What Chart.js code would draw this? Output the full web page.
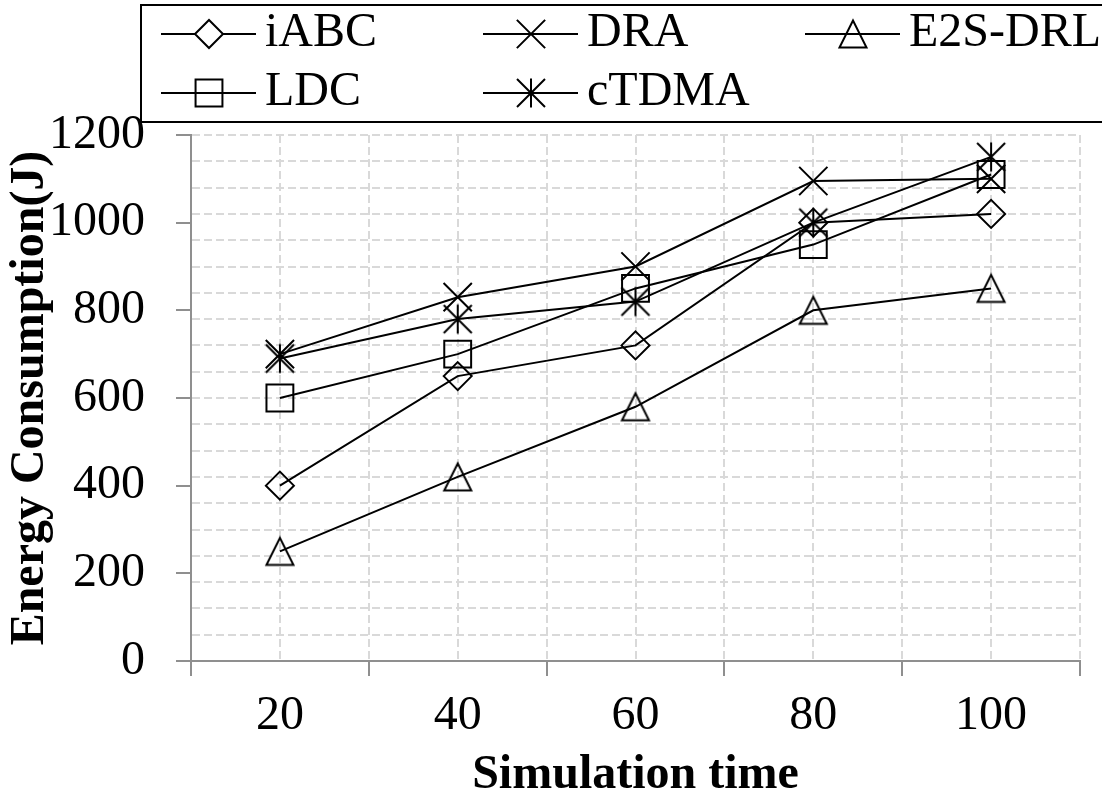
<!DOCTYPE html>
<html>
<head>
  <title>Energy Consumption</title>
  <script src="https://cdn.jsdelivr.net/npm/chart.js"></script>
  <style>
    body { margin: 0; background: #fff; }
  </style>
</head>
<body>
  <canvas id="grafico" width="1102" height="802"></canvas>

  <script>
    // datos
    const simTimes = [20, 40, 60, 80, 100];
    const iABC = [400, 650, 720, 1000, 1020];
    const DRA = [700, 830, 900, 1095, 1100];
    const E2SDRL = [250, 420, 580, 800, 850];
    const LDC = [600, 700, 850, 950, 1110];
    const cTDMA = [690, 780, 820, 1000, 1150];

    const xTicks = [10, 20, 30, 40, 50, 60, 70, 80, 90, 100, 110];
    const yLabels = [0, 200, 400, 600, 800, 1000, 1200];
    const yGrid = [0, 60, 120, 180, 240, 300, 360, 420, 480, 540, 600, 660, 720, 780, 840, 900, 960, 1020, 1080, 1140, 1200];

    const fuente = 'Liberation Serif, Times New Roman, serif';
    const gris = '#8f8f8f';
    const grisGrid = '#d9d9d9';

    function marcador(size, dibujar) {
      const c = document.createElement('canvas');
      c.width = size; c.height = size;
      const g = c.getContext('2d');
      g.strokeStyle = '#000';
      g.lineWidth = 2;
      dibujar(g, size / 2);
      return c;
    }

    const triangulo = marcador(32, (g, m) => {
      g.beginPath();
      g.moveTo(m - 13.5, m + 13.5);
      g.lineTo(m + 13.5, m + 13.5);
      g.lineTo(m, m - 13.5);
      g.closePath();
      g.stroke();
    });

    const asterisco = marcador(34, (g, m) => {
      g.beginPath();
      g.moveTo(m, m - 14.5); g.lineTo(m, m + 14.5);
      g.moveTo(m - 14, m - 14); g.lineTo(m + 14, m + 14);
      g.moveTo(m + 14, m - 14); g.lineTo(m - 14, m + 14);
      g.stroke();
    });

    function serie(label, valores, estilo, radio) {
      return {
        label: label,
        data: simTimes.map((t, i) => ({ x: t, y: valores[i] })),
        borderColor: '#000',
        backgroundColor: 'rgba(0,0,0,0)',
        borderWidth: 2,
        pointStyle: estilo,
        pointRadius: radio,
        pointHoverRadius: radio,
        pointBorderColor: '#000',
        pointBackgroundColor: 'rgba(0,0,0,0)',
        pointBorderWidth: 2,
        tension: 0,
        fill: false
      };
    }

    const datasets = [
      serie('iABC', iABC, 'rectRot', 14),
      serie('DRA', DRA, 'crossRot', 20),
      serie('E2S-DRL', E2SDRL, triangulo, 16),
      serie('LDC', LDC, 'rect', 19),
      serie('cTDMA', cTDMA, asterisco, 17)
    ];

    // leyenda en caja, 3 columnas
    const leyendaCaja = {
      id: 'leyendaCaja',
      afterDraw(chart) {
        const ctx = chart.ctx;
        ctx.save();
        ctx.strokeStyle = '#000';
        ctx.lineWidth = 2;
        ctx.strokeRect(141, 5, 1000, 117);
        ctx.font = '48px ' + fuente;
        ctx.textBaseline = 'middle';
        chart.data.datasets.forEach((ds, i) => {
          const x0 = 161 + (i % 3) * 322;
          const y = 34 + Math.floor(i / 3) * 59;
          ctx.beginPath();
          ctx.moveTo(x0, y);
          ctx.lineTo(x0 + 95, y);
          ctx.stroke();
          ctx.fillStyle = ds.pointStyle === 'rectRot' ? '#fff' : 'rgba(0,0,0,0)';
          Chart.helpers.drawPoint(ctx, {
            pointStyle: ds.pointStyle, radius: ds.pointRadius, rotation: 0, borderWidth: 2
          }, x0 + 48, y);
          ctx.fillStyle = '#000';
          ctx.fillText(ds.label, x0 + 104, y - 1);
        });
        ctx.restore();
      }
    };

    new Chart(document.getElementById('grafico').getContext('2d'), {
      type: 'line',
      data: { datasets: datasets },
      options: {
        responsive: false,
        animation: false,
        layout: { padding: { top: 135, right: 14, left: 0, bottom: 0 } },
        plugins: { legend: { display: false }, tooltip: { enabled: false } },
        scales: {
          x: {
            type: 'linear',
            min: 10,
            max: 110,
            afterBuildTicks: s => { s.ticks = xTicks.map(v => ({ value: v })); },
            afterFit: s => { s.height = 141; },
            ticks: {
              autoSkip: false,
              maxRotation: 0,
              padding: 12,
              color: '#000',
              font: { family: fuente, size: 48 },
              callback: v => simTimes.includes(v) ? String(v) : ''
            },
            grid: {
              color: c => (c.tick && c.tick.value !== 10) ? grisGrid : 'rgba(0,0,0,0)',
              lineWidth: 2,
              tickColor: c => (c.tick && c.tick.value % 20 === 10) ? gris : 'rgba(0,0,0,0)',
              tickLength: 15,
              tickWidth: 2,
              tickBorderDash: []
            },
            border: { color: gris, width: 2, dash: [8, 4] },
            title: {
              display: true,
              text: 'Simulation time',
              color: '#000',
              font: { family: fuente, size: 48, weight: 'bold', lineHeight: 1 },
              padding: { top: 0, bottom: 2 }
            }
          },
          y: {
            min: 0,
            max: 1200,
            afterBuildTicks: s => {
              const vals = Array.from(new Set(yGrid.concat(yLabels))).sort((a, b) => a - b);
              s.ticks = vals.map(v => ({ value: v }));
            },
            afterFit: s => { s.width = 191; },
            ticks: {
              autoSkip: false,
              padding: 31,
              color: '#000',
              font: { family: fuente, size: 48 },
              callback: v => yLabels.includes(v) ? String(v) : ''
            },
            grid: {
              color: c => (c.tick && c.tick.value !== 0 && yGrid.includes(c.tick.value)) ? grisGrid : 'rgba(0,0,0,0)',
              lineWidth: 2,
              tickColor: c => (c.tick && yLabels.includes(c.tick.value)) ? gris : 'rgba(0,0,0,0)',
              tickLength: 15,
              tickWidth: 2,
              tickBorderDash: []
            },
            border: { color: gris, width: 2, dash: [8, 4] },
            title: {
              display: true,
              text: 'Energy Consumption(J)',
              color: '#000',
              font: { family: fuente, size: 48, weight: 'bold' },
              padding: { top: 2, bottom: 0 }
            }
          }
        }
      },
      plugins: [leyendaCaja]
    });
  </script>
</body>
</html>
